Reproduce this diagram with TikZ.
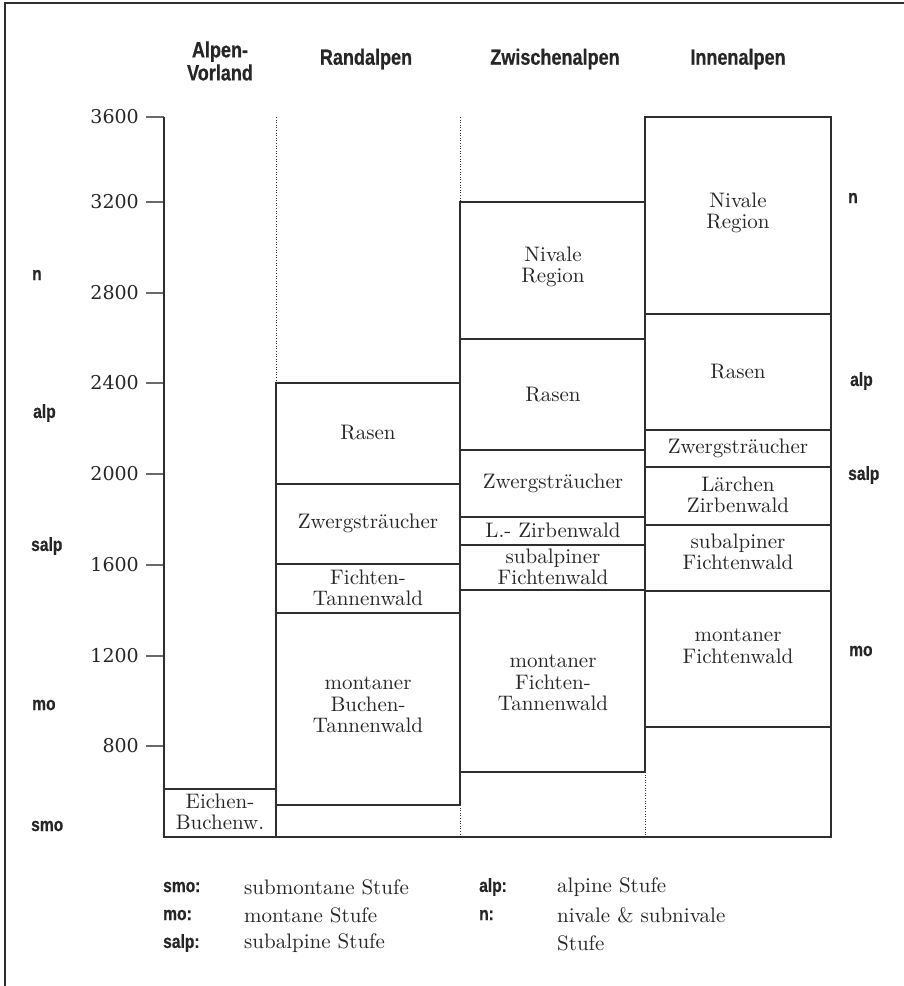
\documentclass[tikz,border=0pt]{standalone}
\usepackage{fontspec}
\newfontfamily\hdrfont[FakeStretch=0.82,FakeBold=0.6]{Liberation Sans Bold}
\newfontfamily\numfont{DejaVu Serif}
\newfontfamily\boxfont{lmroman10-regular.otf}
\definecolor{lncol}{HTML}{2E2E2E}
\definecolor{tickcol}{HTML}{6A6A6A}
\definecolor{txtcol}{HTML}{262626}
\begin{document}
\begin{tikzpicture}[x=1pt,y=-1pt,
  ln/.style={draw=lncol, line width=1.2pt},
  dotl/.style={draw=lncol, line width=0.8pt, dash pattern=on 0.8pt off 1.8pt},
  tickl/.style={draw=tickcol, line width=1.6pt},
  boxtext/.style={font=\boxfont\fontsize{21}{21.5}\selectfont, align=center, inner sep=0pt, text=txtcol},
  hdr/.style={font=\hdrfont\fontsize{22}{23}\selectfont, align=center, inner sep=0pt, text=txtcol},
  stage/.style={font=\hdrfont\fontsize{19}{20}\selectfont, inner sep=0pt, anchor=west, text=txtcol},
  num/.style={font=\numfont\fontsize{19}{20}\selectfont, inner sep=0pt, anchor=east, text=txtcol},
  legtext/.style={font=\boxfont\fontsize{21}{21.5}\selectfont, inner sep=0pt, anchor=west, text=txtcol}
]
\useasboundingbox (0,0) rectangle (904,986);
% frame
\draw[draw=lncol, line width=1.2pt] (5,995) -- (5,3) -- (912,3);

% headers
\node[hdr] (hVor) at (220,61) {Alpen-\\Vorland};
\node[hdr] (hRand) at (366,59) {Randalpen};
\node[hdr] (hZw) at (555,59) {Zwischenalpen};
\node[hdr] (hInn) at (738,59) {Innenalpen};

% axis ticks and labels
\foreach \h/\y in {3600/117,3200/202,2800/293,2400/383,2000/474,1600/565,1200/656,800/746}{
  \draw[tickl] (146,\y) -- (164,\y);
  \node[num] (t\h) at (139,\y) {\h};
}

% dotted column dividers
\draw[dotl] (276,117) -- (276,383);
\draw[dotl] (460,117) -- (460,202);
\draw[dotl] (460,805) -- (460,837);
\draw[dotl] (645,772) -- (645,837);

% Innenalpen
\draw[ln] (645,117) rectangle (831,727);
\foreach \y in {314,430,467,525,591} \draw[ln] (645,\y) -- (831,\y);
% Zwischenalpen
\draw[ln] (460,202) rectangle (645,772);
\foreach \y in {339,450,517,545,590} \draw[ln] (460,\y) -- (645,\y);
% Randalpen
\draw[ln] (276,383) rectangle (460,805);
\foreach \y in {484,564,613} \draw[ln] (276,\y) -- (460,\y);
% Alpen-Vorland
\draw[ln] (164,789) rectangle (276,837);
% axis and outer lines
\draw[ln] (164,117) -- (164,837) -- (831,837) -- (831,117);

% box texts: Alpen-Vorland
\node[boxtext] (eich) at (220,812) {Eichen-\\Buchenw.};
% Randalpen
\node[boxtext] (rRasen) at (368,433) {Rasen};
\node[boxtext] (rZw) at (368,523) {Zwergsträucher};
\node[boxtext] (rFi) at (368,588) {Fichten-\\Tannenwald};
\node[boxtext] (rMo) at (368,705) {montaner\\Buchen-\\Tannenwald};
% Zwischenalpen
\node[boxtext] (zNiv) at (553,267) {Nivale\\Region};
\node[boxtext] (zRasen) at (553,395) {Rasen};
\node[boxtext] (zZw) at (553,483) {Zwergsträucher};
\node[boxtext] (zLZ) at (553,530) {L.- Zirbenwald};
\node[boxtext] (zSub) at (553,567) {subalpiner\\Fichtenwald};
\node[boxtext] (zMo) at (553,683) {montaner\\Fichten-\\Tannenwald};
% Innenalpen
\node[boxtext] (iNiv) at (738,213) {Nivale\\Region};
\node[boxtext] (iRasen) at (738,372) {Rasen};
\node[boxtext] (iZw) at (738,448) {Zwergsträucher};
\node[boxtext] (iLZ) at (738,495) {Lärchen\\Zirbenwald};
\node[boxtext] (iSub) at (738,552) {subalpiner\\Fichtenwald};
\node[boxtext] (iMo) at (738,646) {montaner\\Fichtenwald};

% stage labels left
\node[stage] (lN) at (32,275) {n};
\node[stage] (lAlp) at (33,413) {alp};
\node[stage] (lSalp) at (31,546) {salp};
\node[stage] (lMo) at (32,705) {mo};
\node[stage] (lSmo) at (31,826) {smo};
% stage labels right
\node[stage] (rN) at (848,198) {n};
\node[stage] (rAlp) at (850,381) {alp};
\node[stage] (rSalp) at (848,475) {salp};
\node[stage] (rMo) at (849,651) {mo};

% legend
\node[stage] (kSmo) at (163,887) {smo:};
\node[stage] (kMo) at (163,915) {mo:};
\node[stage] (kSalp) at (163,943) {salp:};
\node[legtext] (dSmo) at (244,887) {submontane Stufe};
\node[legtext] (dMo) at (244,915) {montane Stufe};
\node[legtext] (dSalp) at (244,943) {subalpine Stufe};
\node[stage] (kAlp) at (479,887) {alp:};
\node[stage] (kN) at (479,915) {n:};
\node[legtext] (dAlp) at (557,887) {alpine Stufe};
\node[legtext] (dN) at (557,915) {nivale \& subnivale};
\node[legtext] (dN2) at (557,943) {Stufe};
\end{tikzpicture}
\end{document}
